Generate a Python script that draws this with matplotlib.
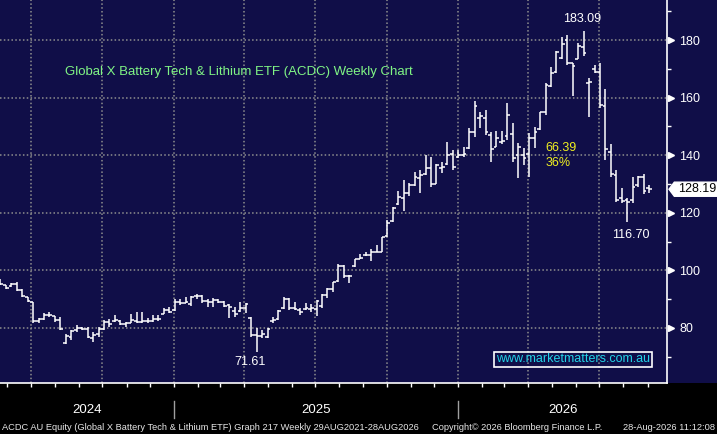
import matplotlib
matplotlib.use('Agg')
import matplotlib.pyplot as plt
import matplotlib.dates as mdates
import matplotlib.transforms as mtransforms
from matplotlib.patches import Rectangle, Polygon
import pandas as pd
import datetime as dt

plt.rcParams['font.family'] = ['Liberation Sans', 'DejaVu Sans']

# Données hebdomadaires
highs = [96.9, 94.9, 95.7, 95.9, 93.4, 90.7, 89.1, 83.4, 85.1, 85.7,
         84.2, 83.9, 77.9, 79.3, 81.0, 80.5, 80.3, 78.7, 80.5, 82.8,
         83.0, 84.5, 82.8, 82.2, 84.9, 85.7, 85.7, 83.4, 84.5, 84.5,
         86.8, 87.4, 90.0, 90.0, 90.9, 91.1, 91.8, 91.5, 90.1, 90.3,
         90.0, 89.4, 88.3, 87.2, 89.1, 88.8, 83.7, 80.0, 79.3, 80.0,
         83.7, 86.3, 90.7, 90.3, 89.1, 86.8, 88.8, 88.3, 89.7, 91.8,
         93.8, 96.1, 102.1, 101.9, 98.4, 104.0, 105.6, 106.5, 107.4, 108.8,
         111.7, 117.5, 121.9, 127.7, 131.4, 130.5, 134.3, 134.9, 140.1, 139.5,
         137.0, 137.8, 144.7, 141.8, 141.8, 143.0, 149.3, 158.8, 155.1, 155.7,
         148.2, 148.4, 148.5, 158.0, 151.1, 144.1, 142.4, 147.6, 149.9, 155.1,
         165.0, 170.7, 176.3, 180.9, 181.7, 171.9, 178.9, 183.09, 166.7, 171.3,
         171.9, 163.0, 143.9, 134.9, 128.5, 125.0, 132.3, 132.8, 133.5, 129.7]
lows = [94.9, 93.4, 94.3, 93.0, 90.9, 89.1, 81.6, 81.6, 82.8, 83.9,
        82.2, 79.3, 74.4, 75.8, 78.7, 79.3, 76.4, 75.0, 77.0, 79.3,
        80.5, 82.2, 81.0, 80.5, 81.6, 81.9, 81.9, 81.6, 82.2, 82.5,
        84.9, 85.1, 86.0, 88.0, 88.6, 87.6, 90.0, 88.8, 87.2, 87.2,
        88.8, 87.2, 83.4, 83.7, 85.7, 85.1, 77.0, 71.61, 76.4, 76.4,
        81.9, 82.8, 86.5, 86.3, 86.3, 84.5, 86.3, 85.7, 84.2, 86.8,
        90.3, 92.6, 96.1, 97.3, 95.7, 101.3, 103.9, 105.0, 103.4, 106.3,
        106.3, 111.7, 116.9, 122.7, 120.7, 125.8, 129.4, 127.0, 133.1, 129.1,
        129.9, 133.9, 136.6, 134.9, 138.9, 139.5, 142.0, 146.4, 149.3, 147.0,
        137.8, 142.7, 143.9, 145.3, 137.8, 132.0, 136.6, 132.5, 142.4, 148.8,
        154.0, 163.8, 168.4, 173.3, 171.3, 160.6, 173.3, 174.4, 153.4, 168.4,
        156.3, 138.3, 132.5, 123.9, 123.5, 116.7, 123.3, 128.9, 126.5, 127.0]
opens = [96.9, 94.9, 94.5, 95.3, 93.2, 90.6, 89.0, 82.3, 83.0, 84.6,
         84.0, 82.8, 74.8, 77.0, 79.2, 80.0, 79.8, 76.5, 77.8, 79.5,
         82.0, 82.5, 82.5, 81.5, 81.8, 82.5, 82.2, 82.3, 82.5, 83.0,
         85.0, 86.3, 86.2, 89.0, 88.8, 88.2, 91.0, 91.0, 89.5, 89.0,
         89.6, 89.0, 88.0, 86.0, 85.9, 87.0, 83.5, 77.5, 77.2, 77.0,
         82.4, 83.0, 86.8, 90.0, 86.8, 86.3, 86.5, 86.5, 86.5, 87.5,
         91.3, 93.5, 96.3, 101.5, 98.0, 101.5, 104.0, 105.2, 105.5, 106.5,
         106.5, 112.0, 117.0, 123.0, 125.0, 127.0, 129.8, 132.0, 133.5, 135.5,
         130.0, 135.5, 136.8, 140.5, 139.5, 140.0, 142.5, 148.0, 153.0, 153.0,
         147.0, 143.0, 144.5, 146.5, 147.5, 140.0, 140.0, 140.5, 146.0, 149.0,
         155.0, 164.0, 169.0, 173.8, 180.0, 172.0, 173.5, 177.5, 165.0, 170.0,
         169.0, 157.0, 141.0, 133.0, 125.0, 124.5, 124.5, 129.5, 132.5, 128.5]
closes = [95.3, 93.8, 95.2, 93.2, 91.0, 89.4, 82.3, 83.0, 84.6, 84.5,
          82.8, 79.5, 77.2, 79.0, 80.0, 79.8, 76.8, 77.5, 79.5, 82.0,
          81.5, 82.8, 81.5, 81.8, 82.8, 82.2, 82.4, 82.5, 83.0, 83.2,
          86.3, 85.5, 89.0, 88.8, 89.2, 90.8, 91.0, 89.5, 89.0, 89.8,
          89.0, 87.8, 87.2, 85.0, 87.0, 88.3, 77.5, 77.3, 78.0, 79.8,
          82.8, 86.0, 90.2, 87.0, 86.7, 85.5, 86.8, 87.0, 89.3, 91.3,
          93.5, 95.8, 101.5, 98.0, 98.2, 103.8, 104.3, 105.5, 106.5, 106.5,
          111.5, 116.5, 121.5, 125.5, 126.8, 129.5, 132.5, 133.0, 135.5, 130.0,
          136.5, 136.0, 140.0, 136.0, 140.0, 140.5, 148.0, 157.0, 153.5, 148.0,
          142.0, 146.0, 145.0, 154.0, 139.0, 143.0, 139.0, 146.0, 148.0, 155.0,
          164.5, 168.5, 176.0, 178.5, 172.0, 171.0, 178.0, 175.5, 165.5, 169.0,
          157.5, 142.0, 133.5, 124.5, 124.0, 123.8, 129.0, 132.5, 127.5, 128.19]

last_price = 128.19
y_ticks = [80, 100, 120, 140, 160, 180]
years = [2024, 2025, 2026]

navy = '#100e48'
grid_col = '#8e8e8e'

fig = plt.figure(figsize=(7.17, 4.34), dpi=100)
fig.patch.set_facecolor('black')
# fond bleu marine derrière la zone du graphique et l'échelle de droite
fig.patches.append(Rectangle((0, 51 / 434), 1, 383 / 434, transform=fig.transFigure,
                             facecolor=navy, edgecolor='none', zorder=-10))

ax = fig.add_axes([0, 51 / 434, 667 / 717, 383 / 434])
ax.set_facecolor(navy)

# barres OHLC (Bloomberg place la barre ~6 jours après la date de fin de semaine)
dates = pd.date_range(end='2026-08-28', periods=len(highs), freq='W-FRI')
x = mdates.date2num(dates.to_pydatetime()) + 6
tick = 3.5
ax.vlines(x, lows, highs, color='white', lw=1.1, zorder=3)
ax.hlines(opens, x - tick, x, color='white', lw=1.1, zorder=3)
ax.hlines(closes, x, x + tick, color='white', lw=1.1, zorder=3)

x0 = dt.datetime(2024, 5, 22, 12)
x1 = dt.datetime(2026, 9, 26)
ax.set_xlim(x0, x1)
ax.set_ylim(60.9, 193.9)

# grille pointillée
quarters = pd.date_range('2024-07-01', '2026-07-01', freq='QS')
for q in quarters:
    ax.axvline(q, color=grid_col, lw=1.1, ls=(0, (1, 1.5)), zorder=1)
for v in y_ticks:
    ax.axhline(v, color=grid_col, lw=1.1, ls=(0, (1, 1.5)), zorder=1)

# axes
for s in ['left', 'top']:
    ax.spines[s].set_visible(False)
for s in ['right', 'bottom']:
    ax.spines[s].set_color('white')
    ax.spines[s].set_linewidth(1.2)

ax.yaxis.tick_right()
ax.set_yticks(y_ticks)
ax.set_yticks(range(70, 200, 20), minor=True)
ax.tick_params(axis='y', which='major', length=0, pad=9, labelsize=9, labelcolor='white')
ax.tick_params(axis='y', which='minor', length=3, width=1, color='white', direction='out')
tr_y = mtransforms.blended_transform_factory(ax.transAxes, ax.transData)
ax.plot([1.006] * len(y_ticks), y_ticks, ls='none', marker='>', ms=4.5, color='white',
        transform=tr_y, clip_on=False, zorder=5)

ax.xaxis.set_major_locator(mdates.MonthLocator())
ax.tick_params(axis='x', which='major', length=3, width=1, color='white', direction='out',
               labelbottom=False)

# années
tr_x = mtransforms.blended_transform_factory(ax.transData, ax.transAxes)
for yr in years:
    a = max(mdates.date2num(dt.datetime(yr, 1, 1)), mdates.date2num(x0))
    b = min(mdates.date2num(dt.datetime(yr + 1, 1, 1)), mdates.date2num(x1))
    ax.text((a + b) / 2, -0.0705, str(yr), transform=tr_x, color='white', fontsize=9.5,
            ha='center', va='center')
    if yr > years[0]:
        ax.plot([dt.datetime(yr, 1, 1)] * 2, [-0.047, -0.091], transform=tr_x, color='#a0a0a0',
                lw=1, clip_on=False)

# textes
ax.text(0.0975, 0.812, 'Global X Battery Tech & Lithium ETF (ACDC) Weekly Chart', transform=ax.transAxes,
        color='#80f585', fontsize=9.5, ha='left', va='center')
ax.text(dt.datetime(2026, 6, 9), 187.3, '183.09', color='white', fontsize=9, ha='center', va='center')
ax.text(dt.datetime(2026, 4, 23), 142.5, '66.39', color='#f0f020', fontsize=9, ha='left', va='center')
ax.text(dt.datetime(2026, 4, 23), 137.3, '36%', color='#f0f020', fontsize=9, ha='left', va='center')
ax.text(dt.datetime(2026, 8, 11), 112.3, '116.70', color='white', fontsize=9, ha='center', va='center')
ax.text(dt.datetime(2025, 4, 9), 68.2, '71.61', color='white', fontsize=9, ha='center', va='center')
ax.text(0.859, 0.0614, 'www.marketmatters.com.au', transform=ax.transAxes, color='#22d3e6', fontsize=9,
        ha='center', va='center',
        bbox=dict(boxstyle='square,pad=0.15', facecolor='none', edgecolor='white', lw=1.2))

# étiquette du dernier cours
h = 2.45
ax.add_patch(Polygon([(1.003, last_price), (1.011, last_price + h), (1.08, last_price + h),
                      (1.08, last_price - h), (1.011, last_price - h)], closed=True,
                     transform=tr_y, facecolor='white', edgecolor='white', clip_on=False, zorder=6))
ax.text(1.016, last_price, f'{last_price:.2f}', transform=tr_y, color='black', fontsize=9,
        ha='left', va='center', zorder=7, clip_on=False)

# pied de page
foot_col = '#e6e6e6'
fig.text(2 / 717, 7 / 434, 'ACDC AU Equity (Global X Battery Tech & Lithium ETF) Graph 217 Weekly 29AUG2021-28AUG2026',
         color=foot_col, fontsize=6.7, ha='left', va='center')
fig.text(432 / 717, 7 / 434, 'Copyright\u00a9 2026 Bloomberg Finance L.P.', color=foot_col, fontsize=6.7,
         ha='left', va='center')
fig.text(715 / 717, 7 / 434, '28-Aug-2026 11:12:08', color=foot_col, fontsize=6.7, ha='right', va='center')

fig.savefig('out.png', dpi=100, facecolor=fig.get_facecolor())
